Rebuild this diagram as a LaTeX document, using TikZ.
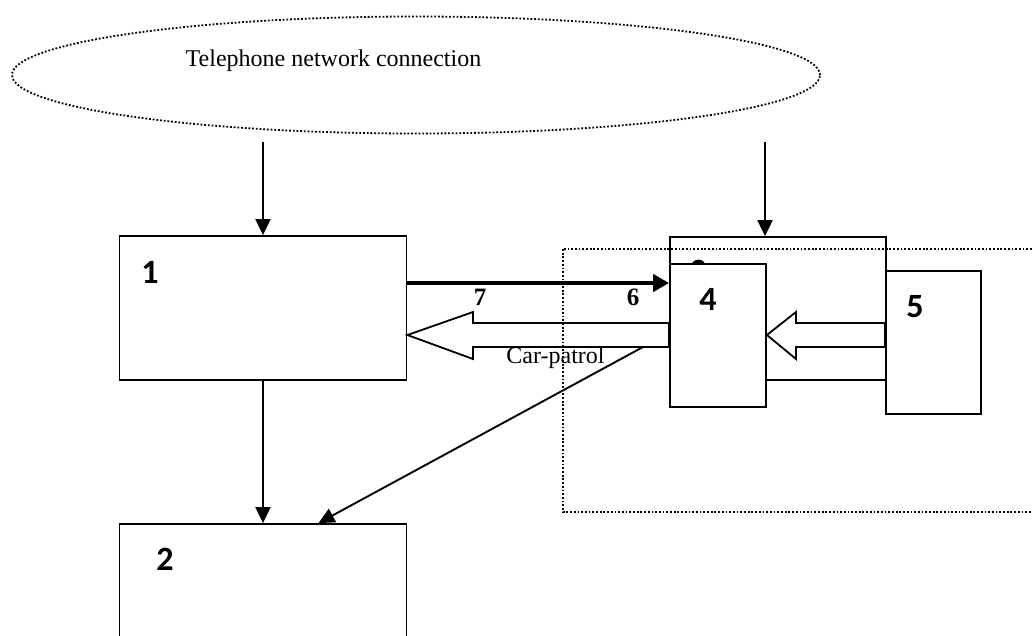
\documentclass[tikz,border=0pt]{standalone}
\usepackage{fontspec}
\setmainfont{Liberation Serif}
\newfontfamily\labelfont{Carlito}
\usetikzlibrary{arrows.meta,shapes.geometric,calc}
\begin{document}
\begin{tikzpicture}[x=1pt,y=-1pt,
  box/.style={draw,line width=1.8pt,fill=white,inner sep=0pt},
  dotline/.style={line width=1.8pt,dash pattern=on 1.8pt off 1.9pt},
  lab/.style={font=\labelfont\bfseries\fontsize{34}{34}\selectfont,inner sep=0pt,anchor=base},
  num/.style={font=\bfseries\fontsize{25}{25}\selectfont,inner sep=0pt,anchor=base},
  txt/.style={font=\fontsize{24}{24}\selectfont,inner sep=0pt,anchor=base},
  arr/.style={line width=1.9pt,-{Triangle[length=16pt,width=15pt]}},
  thickarr/.style={line width=4pt,-{Triangle[length=16pt,width=17pt]}},
  hollow/.style={line width=1.8pt,line join=miter}]
\clip (0,0) rectangle (1032,635);
% telephone network
\node[ellipse,draw,dotline,minimum width=808pt,minimum height=117pt,inner sep=0pt] (tel) at (416,75) {};
\node[txt] (teltxt) at (333.5,66) {Telephone network connection};
% boxes
\node[box,minimum width=287pt,minimum height=144pt] (b1) at (263,308) {};
\node[box,minimum width=287pt,minimum height=125pt] (b2) at (263,586.5) {};
\node[box,minimum width=216pt,minimum height=143pt] (b3) at (778,308.5) {};
\node[lab] (l3) at (698,282) {3};
\node[box,minimum width=96pt,minimum height=143pt] (b4) at (718,335.5) {};
\node[box,minimum width=95pt,minimum height=143pt] (b5) at (933.5,342.5) {};
\node[lab] (l1) at (150,283) {1};
\node[lab] (l2) at (165,570) {2};
\node[lab] (l4) at (708,310) {4};
\node[lab] (l5) at (915,317) {5};
% arrows from network
\coordinate (t1) at (263,142);
\coordinate (t2) at (765,142);
\draw[arr] (t1) -- (t1 |- b1.north);
\draw[arr] (t2) -- (t2 |- b3.north);
% 1 -> 2
\draw[arr] (b1.south) -- (b2.north);
% thick arrow 1 -> 4
\coordinate (ya) at (0,283);
\draw[thickarr] (b1.east |- ya) -- (b4.west |- ya);
\node[num] (n7) at (480,305) {7};
\node[num] (n6) at (633,305) {6};
% hollow arrows
\coordinate (h1) at (0,323);
\coordinate (h2) at (0,347);
\coordinate (hm) at (0,335);
\draw[hollow] (b4.west |- h1) -- (473,323) -- (473,312) -- (b1.east |- hm)
  -- (473,359) -- (473,347) -- (b4.west |- h2) -- cycle;
\draw[hollow] (b5.west |- h1) -- (796,323) -- (796,312) -- (b4.east |- hm)
  -- (796,359) -- (796,347) -- (b5.west |- h2) -- cycle;
\node[txt] (cp) at (555.5,363) {Car-patrol};
% diagonal arrow to 2
\coordinate (d0) at (643,347);
\draw[arr] (d0) -- ($(b2.north west)!0.692!(b2.north east)$);
% dotted region
\draw[dotline] (563,249) rectangle (1045,512);
\end{tikzpicture}
\end{document}
